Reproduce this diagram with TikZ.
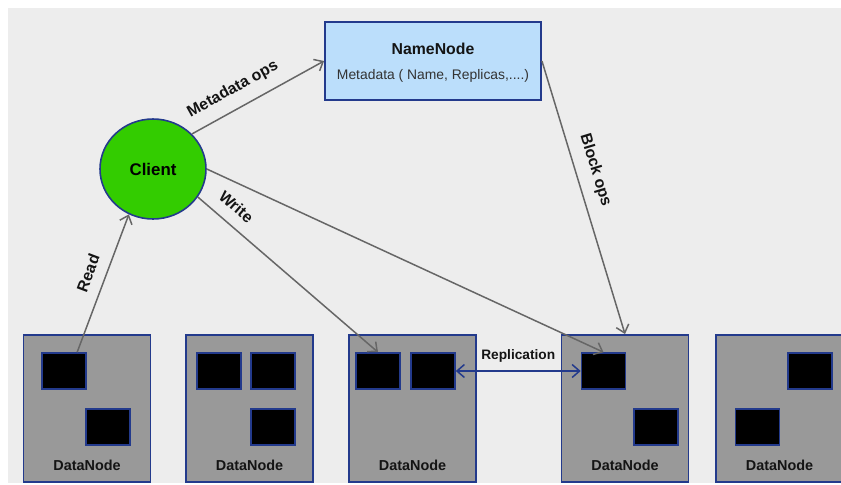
\documentclass[tikz,border=0pt]{standalone}
\usepackage{fontspec}
\setmainfont{Liberation Sans}
\usetikzlibrary{arrows.meta,shapes.geometric}

\definecolor{bgGray}{RGB}{237,237,237}
\definecolor{boxGray}{RGB}{153,153,153}
\definecolor{edgeBlue}{RGB}{35,58,140}
\definecolor{nameBlue}{RGB}{187,222,251}
\definecolor{clientGreen}{RGB}{51,204,0}
\definecolor{arrowGray}{RGB}{102,102,102}
\definecolor{textDark}{RGB}{20,20,20}

\begin{document}
\begin{tikzpicture}[x=0.02cm,y=-0.02cm]
\tikzset{
  datanode/.style={rectangle,draw=edgeBlue,fill=boxGray,line width=1.1pt,minimum width=2.54cm,minimum height=2.94cm,inner sep=0pt},
  block/.style={rectangle,draw=edgeBlue,fill=black,line width=0.9pt,minimum width=0.88cm,minimum height=0.72cm,inner sep=0pt},
  dnlabel/.style={font=\bfseries\fontsize{8.2}{10}\selectfont,text=textDark,inner sep=0pt},
  flow/.style={draw=arrowGray,line width=0.85pt,-{Straight Barb[length=1.5mm,width=2.6mm]}},
  flowlabel/.style={font=\bfseries\fontsize{9}{10}\selectfont,text=textDark,sloped,above=3pt},
  replicate/.style={draw=edgeBlue,line width=0.85pt,{Straight Barb[length=1.5mm,width=2.6mm]}-{Straight Barb[length=1.5mm,width=2.6mm]}}
}
\useasboundingbox (0,0) rectangle (841,484);
\fill[bgGray] (8,8) rectangle (841,483);

\node[rectangle,draw=edgeBlue,fill=nameBlue,line width=1.1pt,minimum width=4.32cm,minimum height=1.56cm] (n_name) at (433,61) {};
\node[font=\bfseries\fontsize{9}{11}\selectfont,text=textDark] (n_name_t) at (433,49) {NameNode};
\node[font=\fontsize{7.9}{10}\selectfont,text=black!80] (n_name_s) at (433,76) {Metadata ( Name, Replicas,....)};

\node[ellipse,draw=edgeBlue,fill=clientGreen,line width=0.9pt,minimum width=2.12cm,minimum height=2.0cm,inner sep=0pt,font=\bfseries\fontsize{9.6}{11}\selectfont] (n_client) at (153,169) {Client};

\node[datanode] (n_dn1) at (87,408.5) {};
\node[datanode] (n_dn2) at (249.5,408.5) {};
\node[datanode] (n_dn3) at (412.5,408.5) {};
\node[datanode] (n_dn4) at (625,408.5) {};
\node[datanode] (n_dn5) at (779.5,408.5) {};

\node[block] (n_b1a) at (64,371) {};
\node[block] (n_b1b) at (108,427) {};
\node[block] (n_b2a) at (219,371) {};
\node[block] (n_b2b) at (273,371) {};
\node[block] (n_b2c) at (273,427) {};
\node[block] (n_b3a) at (378,371) {};
\node[block] (n_b3b) at (433,371) {};
\node[block] (n_b4a) at (603.5,371) {};
\node[block] (n_b4b) at (656,427) {};
\node[block] (n_b5a) at (810,371) {};
\node[block] (n_b5b) at (757.5,427) {};

\foreach \i/\x in {1/87,2/249.5,3/412.5,4/625,5/779.5}
  \node[dnlabel] (n_dn\i_t) at (\x,465) {DataNode};

\draw[flow] (n_client.42) -- node[flowlabel,pos=0.38] {Metadata ops} (n_name.west);
\draw[flow] (n_name.east) -- node[flowlabel,pos=0.42] {Block ops} (n_dn4.north);
\draw[flow] (n_client.-32) -- node[flowlabel,pos=0.15] {Write} (n_b3a.north);
\draw[flow] (n_client.east) -- (n_b4a.north);
\draw[flow] (n_b1a.55) -- node[flowlabel,pos=0.53] {Read} (n_client.-118);
\draw[replicate] (n_b3b.east) -- node[font=\bfseries\fontsize{7.8}{10}\selectfont,text=textDark,above=1pt] {Replication} (n_b4a.west);
\end{tikzpicture}
\end{document}
